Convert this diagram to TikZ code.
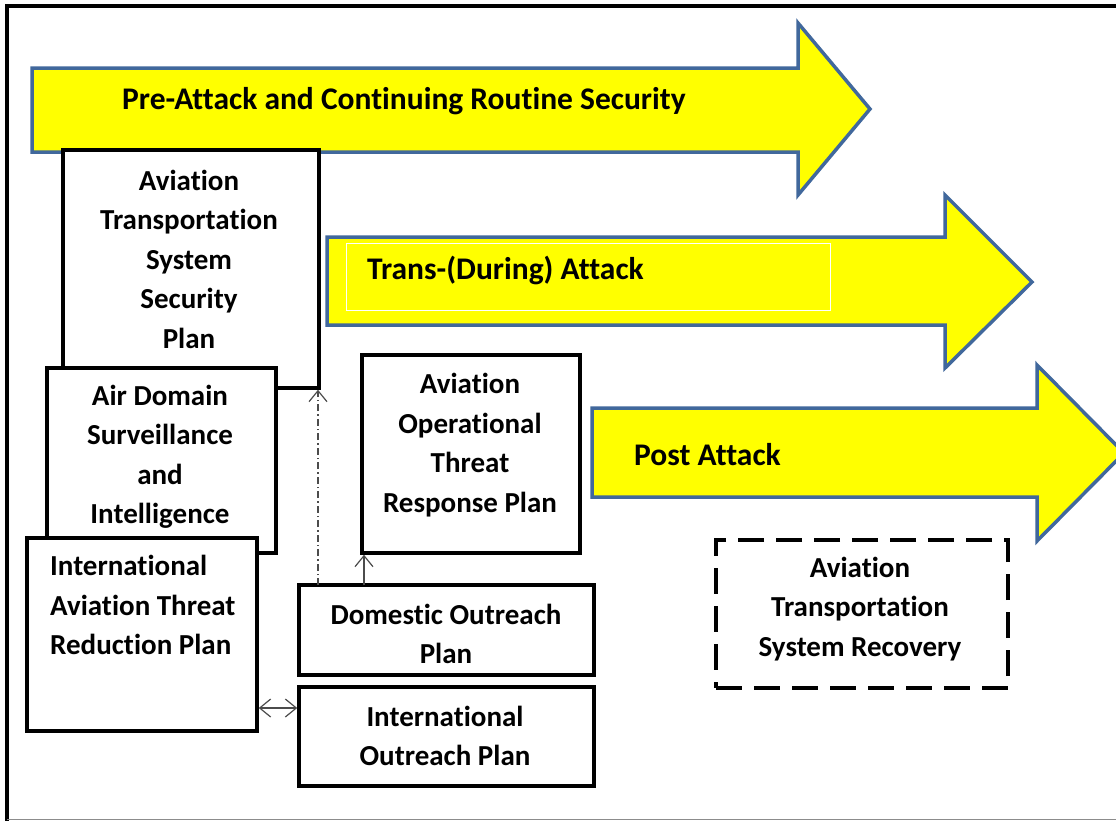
\documentclass[tikz,border=0pt]{standalone}
\usepackage{fontspec}
\setmainfont[Ligatures=NoCommon]{Carlito}
\usetikzlibrary{arrows.meta,calc}

\definecolor{phasefill}{RGB}{255,255,0}
\definecolor{phaseedge}{RGB}{65,104,156}

\begin{document}
\begin{tikzpicture}[x=1pt,y=-1pt,
    phase/.style={draw=phaseedge, fill=phasefill, line width=3.5pt},
    phasetext/.style={anchor=west, inner sep=0pt, font=\bfseries\fontsize{31.5}{36}\selectfont},
    planbox/.style={draw, fill=white, line width=3.5pt, inner sep=0pt},
    boxtext/.style={align=center, inner sep=0pt, font=\bfseries\fontsize{29}{39.5}\selectfont},
    link/.style={draw=black!70, line width=1.2pt, -{Straight Barb[length=11pt,width=18pt]}}]
    \useasboundingbox (0,0) rectangle (1116,820);
    \clip (0,0) rectangle (1116,820);
    \fill[white] (0,0) rectangle (1116,820);

    % Outer frame
    \draw[line width=4pt] (7,830) -- (7,6) -- (1130,6);
    \draw[black!45, line width=1pt] (7,819) -- (1130,819);

    % Pre-attack phase
    \draw[phase] (32,68) -- (798,68) -- (798,23) -- (870,109) -- (798,195) -- (798,152) -- (32,152) -- cycle;
    \node[phasetext] (pre) at (122,101) {Pre-Attack and Continuing Routine Security};

    % Plans on the left
    \node[planbox, minimum width=256pt, minimum height=238pt] (atssp) at (191,269) {};
    \node[boxtext] (atssp-t) at (189,259) {Aviation\\Transportation\\System\\Security\\Plan};
    \node[planbox, minimum width=229pt, minimum height=185pt] (adsi) at (161.5,460.5) {};
    \node[boxtext] (adsi-t) at (160,457) {Air Domain\\Surveillance\\and\\Intelligence};
    \node[planbox, minimum width=230pt, minimum height=193pt] (iatrp) at (142,634.5) {};
    \node[boxtext, align=left, anchor=north west] (iatrp-t) at (50,555) {International\\Aviation Threat\\Reduction Plan};

    % Trans and post attack phases
    \draw[phase] (327,237) -- (945,237) -- (945,195) -- (1032,282) -- (945,368) -- (945,325) -- (327,325) -- cycle;
    \draw[white, line width=0.8pt] (346,243) rectangle (830,310);
    \node[phasetext] (trans) at (367,270) {Trans-(During) Attack};
    \draw[phase] (592,408) -- (1037,408) -- (1037,365) -- (1124,453) -- (1037,541) -- (1037,497) -- (592,497) -- cycle;
    \node[phasetext] (post) at (634,455) {Post Attack};

    % Plans on the right
    \node[planbox, minimum width=218pt, minimum height=198pt] (aotrp) at (471,454) {};
    \node[boxtext] (aotrp-t) at (470,445) {Aviation\\Operational\\Threat\\Response Plan};
    \node[planbox, minimum width=295pt, minimum height=90pt] (dop) at (446.5,630) {};
    \node[boxtext] (dop-t) at (446,634) {Domestic Outreach\\Plan};
    \node[planbox, minimum width=295pt, minimum height=99pt] (iop) at (446.5,736.5) {};
    \node[boxtext] (iop-t) at (445,736) {International\\Outreach Plan};
    \node[planbox, dashed, dash pattern=on 26pt off 12pt, minimum width=292pt, minimum height=148pt] (atsr) at (862,614) {};
    \node[boxtext] (atsr-t) at (860,609) {Aviation\\Transportation\\System Recovery};

    % Links
    \coordinate (upleft) at (318,585);
    \coordinate (upright) at (364,585);
    \coordinate (both) at (278,708);
    \draw[link, dash pattern=on 7pt off 3pt on 1.5pt off 3pt] (upleft) -- (upleft |- atssp.south);
    \draw[link] (upright) -- (upright |- aotrp.south);
    \draw[link, {Straight Barb[length=11pt,width=18pt]}-{Straight Barb[length=11pt,width=18pt]}] (both -| iatrp.east) -- (both -| iop.west);
\end{tikzpicture}
\end{document}
